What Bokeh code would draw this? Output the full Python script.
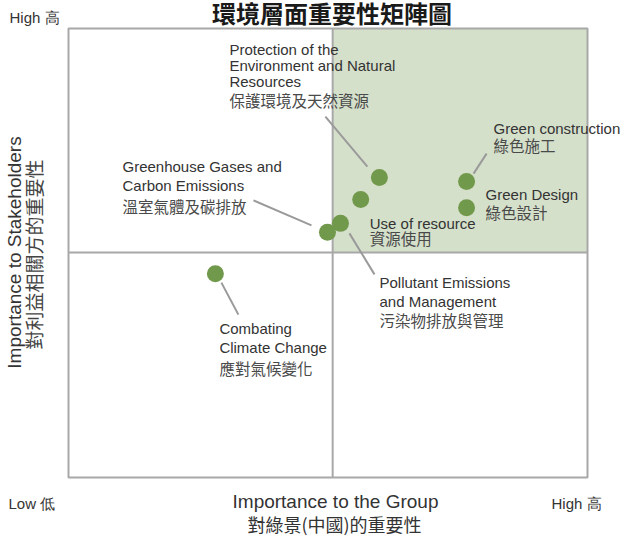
import math
from bokeh.plotting import figure
from bokeh.models import ColumnDataSource
from bokeh.core.properties import value
from bokeh.embed import file_html
from bokeh.resources import INLINE

# ---------------- data ----------------
TITLE = "環境層面重要性矩陣圖"
topic_en = [
    ["Protection of the", "Environment and Natural", "Resources"],
    ["Use of resource"],
    ["Pollutant Emissions", "and Management"],
    ["Greenhouse Gases and", "Carbon Emissions"],
    ["Combating", "Climate Change"],
    ["Green construction"],
    ["Green Design"],
]
topic_zh = ["保護環境及天然資源", "資源使用", "污染物排放與管理", "溫室氣體及碳排放",
            "應對氣候變化", "綠色施工", "綠色設計"]
importance_group = [5.99, 5.63, 5.24, 4.99, 2.83, 7.67, 7.67]
importance_stakeholders = [6.68, 6.19, 5.66, 5.46, 4.54, 6.59, 6.01]
MID_X, MID_Y = 5.09, 5.01
X_TITLE = ["Importance to the Group", "對綠景(中國)的重要性"]
Y_TITLE = ["Importance to Stakeholders", "對利益相關方的重要性"]
LOW, HIGH = "Low 低", "High 高"

# ---------------- layout (pixels) ----------------
W, H = 626, 538
X0, Y0 = 68.0, 477.0       # box left / bottom in canvas pixels
SX, SY = 51.9, 44.9        # pixels per unit
K = 0.4                    # baseline correction (em)

def px2x(px):
    return (px - X0) / SX

def py2y(py):
    return (Y0 - py) / SY

def base(py, fs):
    # convert a visual baseline (pixels) into the anchor used for drawing
    return py2y(py - K * fs)

# label offsets relative to each point (pixels, screen y down)
label_dx = [-150, 9, 39, -205, 4, 27, 19]
label_en_dy = [[-122, -106, -90], [30], [65, 84], [-60, -41], [61, 80], [-47], [-7]]
label_zh_dy = [-71, 45, 103, -20, 101, -30, 11]
leaders = [((-54, -61), (-12, -11)), None, ((9, 10), (34, 51)), ((-74, -32), (-16, -7)),
           ((6, 9), (23, 41)), ((7, -8), (20, -28)), None]

EN_FONT = "Liberation Sans"
ZH_FONT = "Noto Sans CJK TC"
FS_EN, FS_ZH = 15, 15.5

p = figure(width=W, height=H, x_range=(-X0 / SX, (W - X0) / SX),
           y_range=(-(H - Y0) / SY, Y0 / SY),
           x_axis_type=None, y_axis_type=None, output_backend="svg",
           toolbar_location=None, min_border=0, outline_line_color=None,
           background_fill_color="white", border_fill_color="white")

# quadrant shading
p.quad(left=[MID_X], right=[10], bottom=[MID_Y], top=[10],
       fill_color="#d5e0cb", line_color=None)
# dividers
p.segment(x0=[MID_X, 0], y0=[0, MID_Y], x1=[MID_X, 10], y1=[10, MID_Y],
          line_color="#a8a8a8", line_width=2)
# box outline
p.quad(left=[0], right=[10], bottom=[0], top=[10], fill_color=None,
       line_color="#a8a8a8", line_width=2)

# leader lines
lx0, ly0, lx1, ly1 = [], [], [], []
for i, ld in enumerate(leaders):
    if ld is None:
        continue
    ppx = X0 + importance_group[i] * SX
    ppy = Y0 - importance_stakeholders[i] * SY
    (a, b), (c, d) = ld
    lx0.append(px2x(ppx + a)); ly0.append(py2y(ppy + b))
    lx1.append(px2x(ppx + c)); ly1.append(py2y(ppy + d))
p.segment(x0=lx0, y0=ly0, x1=lx1, y1=ly1, line_color="#9a9a9a", line_width=2)

# points
p.scatter(x=importance_group, y=importance_stakeholders, size=17,
          fill_color="#71994b", line_color=None)

# labels
en = dict(x=[], y=[], text=[])
zh = dict(x=[], y=[], text=[])
for i in range(len(topic_zh)):
    ppx = X0 + importance_group[i] * SX
    ppy = Y0 - importance_stakeholders[i] * SY
    for line, dy in zip(topic_en[i], label_en_dy[i]):
        en["x"].append(px2x(ppx + label_dx[i])); en["y"].append(base(ppy + dy, FS_EN)); en["text"].append(line)
    zh["x"].append(px2x(ppx + label_dx[i])); zh["y"].append(base(ppy + label_zh_dy[i], FS_ZH)); zh["text"].append(topic_zh[i])

p.text(x="x", y="y", text="text", source=ColumnDataSource(en),
       text_font=value(EN_FONT), text_font_size=f"{FS_EN}px", text_color="#333333",
       text_align="left", text_baseline="alphabetic")
p.text(x="x", y="y", text="text", source=ColumnDataSource(zh),
       text_font=value(ZH_FONT), text_font_size=f"{FS_ZH}px", text_color="#4a4a4a",
       text_align="left", text_baseline="alphabetic")

# title
p.text(x=[px2x(331.5)], y=[base(21.5, 24)], text=[TITLE], text_font=value(ZH_FONT),
       text_font_style="bold", text_font_size="24px", text_color="#1a1a1a",
       text_align="center", text_baseline="alphabetic")

# end labels
p.text(x=[px2x(9), px2x(8), px2x(551)], y=[base(23, 15), base(509, 15), base(509, 15)],
       text=[HIGH, LOW, HIGH], text_font=value(EN_FONT), text_font_size="15px",
       text_color="#333333", text_align="left", text_baseline="alphabetic")

# x title
p.text(x=[px2x(335)], y=[base(509, 19)], text=[X_TITLE[0]], text_font=value(EN_FONT),
       text_font_size="19px", text_color="#333333", text_align="center",
       text_baseline="alphabetic")
p.text(x=[px2x(334)], y=[base(531, 18)], text=[X_TITLE[1]], text_font=value(ZH_FONT),
       text_font_size="18px", text_color="#333333", text_align="center",
       text_baseline="alphabetic")

# y title (rotated, reads bottom to top)
p.text(x=[px2x(22 - K * 19)], y=[py2y(252)], text=[Y_TITLE[0]], text_font=value(EN_FONT),
       text_font_size="19px", text_color="#333333", text_align="center",
       text_baseline="alphabetic", angle=math.pi / 2)
p.text(x=[px2x(41 - K * 19)], y=[py2y(254)], text=[Y_TITLE[1]], text_font=value(ZH_FONT),
       text_font_size="19px", text_color="#444444", text_align="center",
       text_baseline="alphabetic", angle=math.pi / 2)

open("out.html", "w").write(file_html(p, INLINE))
